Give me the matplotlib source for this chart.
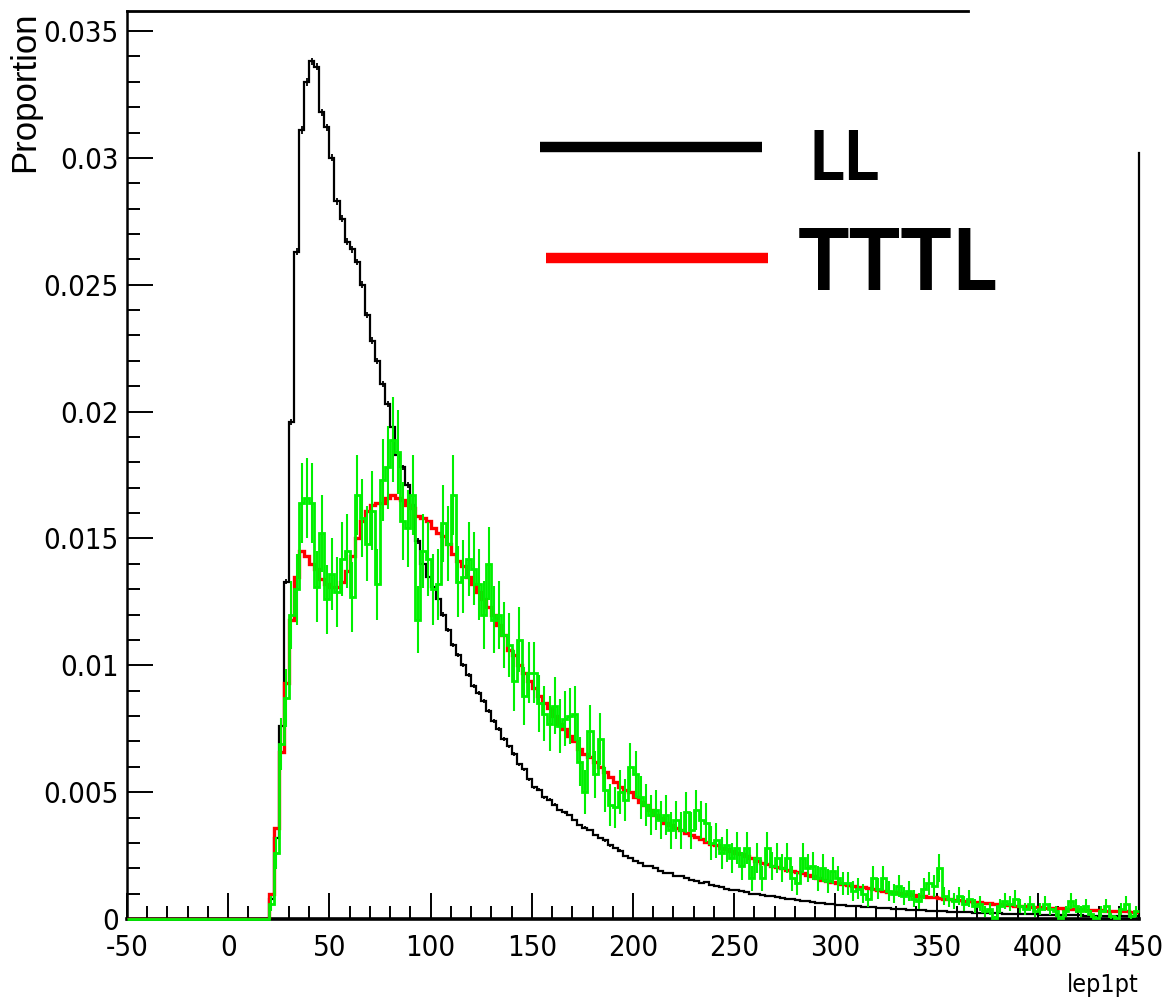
import numpy as np
import matplotlib.pyplot as plt
from matplotlib.lines import Line2D
from matplotlib.ticker import MultipleLocator

# binning of lep1pt: 2.5 wide from -50 to 450, everything below 20 is empty
x_lo, x_hi, bin_w = -50.0, 450.0, 2.5
first_filled = 20.0

# bin contents from 20 upward, in units of 1e-4
ll = [8, 32, 76, 133, 196, 263, 311, 330, 338, 336,
      318, 312, 300, 283, 276, 267, 264, 259, 250, 238,
      228, 220, 211, 203, 194, 183, 178, 171, 163, 149,
      140, 135, 131, 126, 120, 114, 108, 104, 100, 96,
      92, 89, 86, 82, 78, 75, 71, 68, 65, 61,
      59, 55, 52, 51, 48, 47, 45, 43, 42, 41,
      39, 37, 36, 35, 33, 32, 31, 29, 28, 27,
      25, 24, 23, 22, 21, 21, 20, 19, 18, 18,
      17, 17, 16, 15.5, 15, 14, 14.5, 13.5, 13, 12.5,
      12, 11.5, 11.5, 11, 10.5, 10, 10, 9.5, 9, 9,
      8.5, 8.3, 8, 7.7, 7.5, 7.2, 7, 6.8, 6.5, 6.3,
      6.1, 5.9, 5.7, 5.5, 5.3, 5.2, 5, 4.9, 4.7, 4.6,
      4.4, 4.3, 4.2, 4.0, 3.9, 3.8, 3.7, 3.6, 3.5, 3.4,
      3.3, 3.2, 3.1, 3.0, 2.9, 2.8, 2.75, 2.7, 2.6, 2.5,
      2.45, 2.4, 2.3, 2.25, 2.2, 2.1, 2.05, 2.0, 1.95, 1.9,
      1.85, 1.8, 1.75, 1.7, 1.65, 1.6, 1.55, 1.5, 1.45, 1.4,
      1.4, 1.35, 1.3, 1.25, 1.2, 1.2, 1.15, 1.1, 1.1, 1.05,
      1.0, 1.0]

tttl = [10, 36, 66, 93, 118, 135, 145, 143, 140, 138,
        134, 132, 131, 131, 133, 137, 143, 150, 157, 161,
        163, 164, 164, 166, 167, 166, 165, 163, 162, 159,
        158, 157, 154, 152, 151, 148, 144, 141, 139, 135,
        132, 129, 126, 123, 120, 116, 112, 106, 104, 100,
        97, 94, 91, 88, 85, 83, 80, 77, 75, 72,
        70, 67, 65, 64, 62, 60, 58, 56, 54, 52,
        51, 50, 48, 46, 45, 43, 41, 40, 38, 37,
        36, 35, 34, 33, 32.5, 31.5, 30.5, 29.5, 29, 28,
        27.5, 27, 26, 25.5, 25, 24, 23, 22, 21.5, 21,
        20.5, 20, 19.5, 19, 18.5, 18, 17.5, 17, 16, 15.5,
        15, 14.5, 14, 13.8, 13.5, 13, 12.8, 12.5, 12.2, 11.8,
        11.5, 11, 10.8, 10.5, 10.2, 10, 9.7, 9.5, 9.2, 9,
        8.7, 8.5, 8.3, 8, 7.8, 7.6, 7.4, 7.2, 7, 6.8,
        6.6, 6.4, 6.2, 6, 5.8, 5.7, 5.5, 5.3, 5.2, 5,
        4.9, 4.8, 4.6, 4.5, 4.4, 4.3, 4.2, 4.1, 4, 3.9,
        3.8, 3.7, 3.6, 3.5, 3.4, 3.3, 3.2, 3.1, 3.0, 3.0,
        2.9, 2.8]

# small TTTL sample, drawn with its statistical errors
tttl_small = [6, 26, 69, 87, 120, 130, 164, 166, 164, 131,
              152, 126, 136, 129, 142, 145, 127, 167, 158, 148,
              161, 132, 173, 178, 189, 184, 157, 154, 167, 118,
              145, 142, 130, 132, 156, 148, 167, 133, 135, 142,
              138, 132, 120, 140, 118, 120, 112, 108, 94, 110,
              88, 97, 97, 85, 81, 77, 84, 76, 79, 80,
              81, 62, 50, 74, 57, 71, 51, 45, 44, 50,
              47, 60, 57, 48, 45, 41, 43, 39, 41, 35,
              39, 35, 42, 35, 43, 39, 38, 30, 31, 26,
              29, 24, 28, 21, 28, 16, 24, 16, 28, 21,
              24, 20, 24, 16, 14, 24, 20, 21, 16, 20,
              15, 19, 16, 14, 14, 11, 12, 10, 8, 16,
              12, 16, 11, 10, 13, 9, 11, 8, 7, 12,
              14, 13, 20, 9, 8, 7, 9, 6, 8, 5,
              6, 3, 4, 0.5, 5, 7, 6, 8, 5, 4,
              6, 3, 4, 6, 4, 3, 0.5, 3, 7, 5,
              3, 5, 2, 0.5, 3, 5, 1, 0.5, 4, 6,
              1, 3]

n_ll = 1.5e6        # events behind the LL histogram
n_small = 6700      # events behind the small TTTL sample

x_ticks = [-50, 0, 50, 100, 150, 200, 250, 300, 350, 400, 450]
x_tick_labels = ['-50', '0', '50', '100', '150', '200', '250', '300', '350', '400', '450']
y_ticks = [0, 0.005, 0.01, 0.015, 0.02, 0.025, 0.03, 0.035]
y_tick_labels = ['0', '0.005', '0.01', '0.015', '0.02', '0.025', '0.03', '0.035']

edges = np.arange(x_lo, x_hi + bin_w / 2, bin_w)
centers = edges[:-1] + bin_w / 2
n_empty = int(round((first_filled - x_lo) / bin_w))


def full(vals):
    v = np.asarray(vals, dtype=float) * 1e-4
    out = np.concatenate([np.zeros(n_empty), v])
    assert len(out) == len(edges) - 1
    return out


h_ll = full(ll)
h_tttl = full(tttl)
h_small = full(tttl_small)

fig = plt.figure(figsize=(11.62, 10.01), dpi=100)
ax = fig.add_axes([127 / 1162, 82 / 1001, 1012 / 1162, 908 / 1001])

ax.stairs(h_ll, edges, baseline=None, color='black', lw=1.6, zorder=3)
ax.errorbar(centers[h_ll > 0], h_ll[h_ll > 0], yerr=np.sqrt(h_ll[h_ll > 0] / n_ll),
            fmt='none', ecolor='black', elinewidth=1.3, zorder=3)
ax.stairs(h_tttl, edges, baseline=None, color='#ff0000', lw=2.4, zorder=4)
ax.stairs(h_small, edges, baseline=None, color='#00f000', lw=2.0, zorder=5, clip_on=False)
ax.errorbar(centers[h_small > 0], h_small[h_small > 0],
            yerr=np.sqrt(h_small[h_small > 0] / n_small),
            fmt='none', ecolor='#00f000', elinewidth=1.5, zorder=5)

ax.set_xlim(x_lo, x_hi)
ax.set_ylim(0, 0.03579)

# condensed sans for the axis numbers
tick_font = dict(fontfamily='DejaVu Sans', fontstretch='condensed', fontsize=21)
ax.set_xticks(x_ticks)
ax.set_xticklabels(x_tick_labels, **tick_font)
ax.set_yticks(y_ticks)
ax.set_yticklabels(y_tick_labels, **tick_font)
ax.xaxis.set_minor_locator(MultipleLocator(10))
ax.yaxis.set_minor_locator(MultipleLocator(0.001))
ax.tick_params(which='major', direction='in', length=19, width=1.4)
ax.tick_params(which='minor', direction='in', length=9.5, width=1.4)
ax.tick_params(axis='x', which='major', pad=11)
ax.tick_params(axis='y', which='major', pad=6)

# frame: top and right borders are cut where the legend panel sits
for side in ('top', 'right'):
    ax.spines[side].set_visible(False)
ax.spines['left'].set_linewidth(1.8)
ax.spines['bottom'].set_linewidth(2.6)
ax.add_line(Line2D([0, 0.831], [1, 1], transform=ax.transAxes, color='black',
                   lw=2.0, clip_on=False))
ax.add_line(Line2D([1, 1], [0, 0.8436], transform=ax.transAxes, color='black',
                   lw=1.6, clip_on=False))

ax.text(1.0, -0.0725, 'lep1pt', transform=ax.transAxes, ha='right', va='center',
        fontfamily='DejaVu Sans', fontstretch='condensed', fontsize=18)
ax.text(-0.1008, 1.0, 'Proportion', transform=ax.transAxes, rotation=90,
        ha='center', va='top', fontfamily='Liberation Sans', fontsize=25)

# legend panel
fig.add_artist(Line2D([540 / 1162, 762 / 1162], [1 - 147 / 1001] * 2,
                      color='black', lw=7.5, solid_capstyle='butt'))
fig.add_artist(Line2D([546 / 1162, 768 / 1162], [1 - 258 / 1001] * 2,
                      color='#ff0000', lw=7.5, solid_capstyle='butt'))
fig.text(808 / 1162, 1 - 160 / 1001, 'LL', ha='left', va='center',
         fontfamily='Lato', fontweight='bold', fontsize=49)
fig.text(798 / 1162, 1 - 265 / 1001, 'TTTL', ha='left', va='center',
         fontfamily='Lato', fontweight='bold', fontsize=62)

fig.savefig('out.png', dpi=100)
